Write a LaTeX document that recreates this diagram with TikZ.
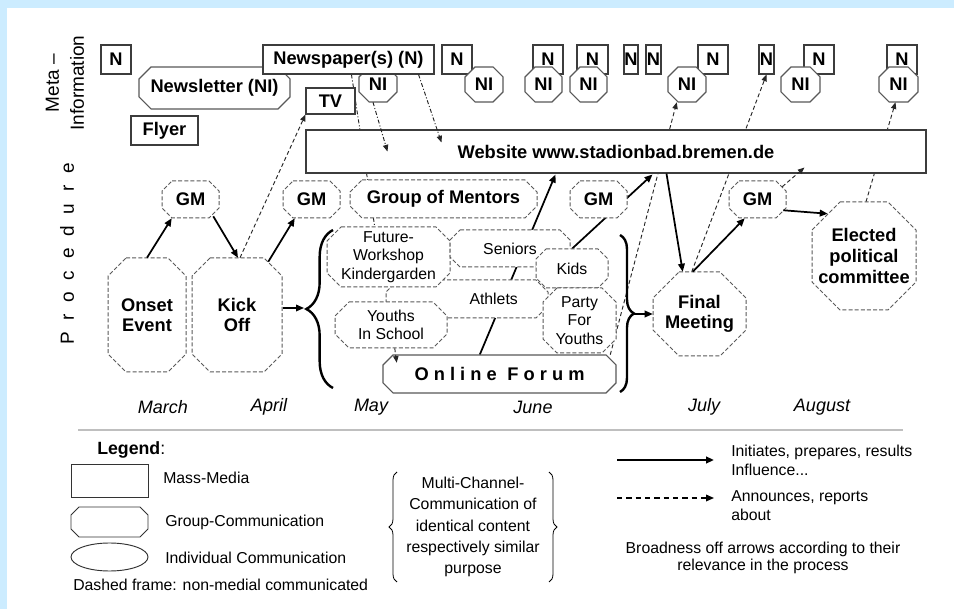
\documentclass[tikz,border=0pt]{standalone}
\usepackage{fontspec}
\setmainfont{Liberation Sans}
\usetikzlibrary{arrows.meta,calc,decorations.pathreplacing,shapes.geometric}
\pgfdeclarelayer{bglayer}
\pgfdeclarelayer{lines}
\pgfsetlayers{bglayer,lines,main}
\definecolor{bgblue}{RGB}{204,236,255}
\definecolor{edgecol}{RGB}{60,60,60}
\definecolor{dashcol}{RGB}{90,90,90}
\newcommand\bfnt{\fontsize{13.7}{15.4}\selectfont\bfseries}
\newcommand\smfnt{\fontsize{11.85}{14}\selectfont}
\newcommand\lgfnt{\fontsize{11.85}{14.25}\selectfont}
\newcommand\mofnt{\fontsize{13.5}{16}\selectfont\itshape}
\newcommand\octnode[9][]{%
  \path[#1] (#3+#7,#4) -- (#5-#7,#4) -- (#5,#4+#7) -- (#5,#6-#7) -- (#5-#7,#6) -- (#3+#7,#6) -- (#3,#6-#7) -- (#3,#4+#7) -- cycle;
  \node[octtext,#8,minimum width={(#5-#3)*0.75pt},minimum height={(#6-#4)*0.75pt}] (#2) at ({(#3+#5)/2},{(#4+#6)/2}) {#9};}
\newcommand\boxnode[7][]{%
  \node[mmbox,#1,minimum width={(#5-#3)*0.75pt},minimum height={(#6-#4)*0.75pt}] (#2) at ({(#3+#5)/2},{(#4+#6)/2}) {#7};}
\begin{document}
\begin{tikzpicture}[x=0.75pt,y=-0.75pt,
  mmbox/.style={draw=edgecol,line width=0.8pt,fill=white,inner sep=0pt,font=\bfnt},
  solo/.style={draw=edgecol!85,line width=0.8pt,fill=white},
  grp/.style={draw=dashcol,line width=0.75pt,fill=white,dash pattern=on 3pt off 1.6pt},
  octtext/.style={inner sep=0pt,align=center},
  bl/.style={font=\bfnt},
  sl/.style={font=\smfnt},
  sarrow/.style={line width=1.3pt,-{Triangle[length=6pt,width=5pt]}},
  darrow/.style={line width=0.7pt,black!85,dash pattern=on 3pt off 2pt,-{Triangle[length=5pt,width=4pt]}},
  ddline/.style={line width=0.7pt,black!85,dash pattern=on 3pt off 1.5pt on 0.8pt off 1.5pt},
  ddarrow/.style={ddline,-{Triangle[length=5pt,width=4pt]}},
  month/.style={font=\mofnt},
  lgtext/.style={font=\lgfnt,inner sep=0pt},
]
\useasboundingbox (0,0) rectangle (954,609);
\begin{pgfonlayer}{bglayer}
\fill[bgblue] (0,0) rectangle (954,609);
\fill[white] (7,8) rectangle (954,609);
\end{pgfonlayer}

% side labels
\node[rotate=90,align=center,font=\fontsize{14.25}{18.75}\selectfont] (metalbl) at (65,83) {Meta –\\Information};
\node[rotate=90,font=\fontsize{14.25}{17}\selectfont] (proclbl) at (67,254) {P\kern8.8pt r\kern8.8pt o\kern8.8pt c\kern8.8pt e\kern8.8pt d\kern8.8pt u\kern8.8pt r\kern8.8pt e};

% top row: meta information
\octnode[solo]{newsletter}{139}{67}{290}{109}{12}{bl}{Newsletter (NI)}
\octnode[solo]{ni0}{359}{67}{397}{102}{10}{bl}{NI}
\boxnode{n1}{101}{45}{131}{74}{N}
\boxnode{newspaper}{263}{45}{434}{74}{Newspaper(s) (N)}
\boxnode{n2}{442}{45}{472}{74}{N}
\boxnode{n3}{533}{45}{563}{74}{N}
\boxnode{n4}{577}{45}{608}{74}{N}
\boxnode{n5}{624}{45}{638}{74}{N}
\boxnode{n6}{646}{45}{661}{74}{N}
\boxnode{n7}{698}{45}{728}{74}{N}
\boxnode{n8}{759}{45}{774}{74}{N}
\boxnode{n9}{804}{45}{834}{74}{N}
\boxnode{n10}{887}{45}{917}{74}{N}
\octnode[solo]{ni1}{465}{67}{503}{102}{10}{bl}{NI}
\octnode[solo]{ni2}{525}{67}{562}{102}{10}{bl}{NI}
\octnode[solo]{ni3}{570}{67}{607}{102}{10}{bl}{NI}
\octnode[solo]{ni4}{668}{67}{706}{102}{10}{bl}{NI}
\octnode[solo]{ni5}{781}{67}{820}{102}{10}{bl}{NI}
\octnode[solo]{ni6}{879}{67}{918}{102}{10}{bl}{NI}
\boxnode{tv}{306}{88}{355}{114}{TV}
\boxnode{flyer}{131}{116}{198}{145}{Flyer}
\boxnode{website}{306}{130}{926}{173}{Website www.stadionbad.bremen.de}

% procedure row
\octnode[grp]{gm1}{162}{181}{219}{218}{10}{bl}{GM}
\octnode[grp]{gm2}{283}{181}{340}{218}{10}{bl}{GM}
\octnode[grp]{mentors}{350}{180}{537}{218}{12}{bl}{Group of Mentors}
\octnode[grp]{gm3}{570}{181}{627}{218}{10}{bl}{GM}
\octnode[grp]{gm4}{729}{181}{786}{218}{10}{bl}{GM}
\octnode[grp]{onset}{108}{258}{186}{372}{18}{bl}{Onset\\Event}
\octnode[grp]{kick}{192}{258}{282}{372}{18}{bl}{Kick\\Off}
\octnode[grp]{final}{653}{272}{746}{356}{26}{bl}{Final\\Meeting}
\octnode[grp]{elected}{812}{202}{916}{310}{28}{bl}{Elected\\political\\committee}

% cluster
\octnode[grp]{athlets}{386}{280}{548}{318}{12}{sl,text depth=0pt}{\hspace*{40pt}Athlets}
\octnode[grp]{future}{327}{227}{450}{287}{14}{sl}{Future-\\Workshop\\Kindergarden}
\octnode[grp]{youths}{335}{302}{447}{348}{14}{sl}{Youths\\In School}
\octnode[grp]{seniors}{450}{230}{570}{267}{10}{sl}{Seniors}
\octnode[grp]{kids}{536}{249}{608}{288}{10}{sl}{Kids}
\octnode[grp]{party}{543}{288}{616}{353}{14}{sl}{Party\\For\\Youths}
\octnode[solo]{forum}{383}{355}{616}{393}{10}{bl}{O n l i n e\hspace{8pt}F o r u m}

% braces
\coordinate (lbt) at (304,308);
\coordinate (rbt) at (634,314);
\draw[line width=1.8pt,decorate,decoration={brace,amplitude=20pt}] (333,388) -- (333,230);
\draw[line width=1.8pt,decorate,decoration={brace,amplitude=10.5pt}] (620,235) -- (620,392);

% lines passing behind shapes
\begin{pgfonlayer}{lines}
\draw[ddline] ($(newspaper.south west)+(89,0)$) -- ($(future.north west)+(48,0)$);
\draw[darrow] ($(forum.north east)+(-6,0)$) -- ($(ni4.south west)+(9,0)$);
\draw[darrow] ($(final.north west)+(39,0)$) -- (n8.south);
\draw[darrow] ($(elected.north)+(2,0)$) -- ($(ni6.south)+(-3,0)$);
\draw[sarrow] ($(forum.north west)+(97,0)$) -- ($(website.south west)+(250,1)$);
\draw[sarrow] (kids.north) -- ($(website.south west)+(347,1)$);
\end{pgfonlayer}

% arrows on top
\draw[sarrow] (onset.north) -- ($(gm1.south west)+(10,0)$);
\draw[sarrow] ($(gm1.south east)+(-6,-2)$) -- ($(kick.north)+(1,0)$);
\draw[sarrow] ($(kick.north east)+(-14,4)$) -- ($(gm2.south west)+(12,0)$);
\draw[sarrow,line width=1pt] ($(kick.east)+(1,-7)$) -- (lbt);
\draw[sarrow] ($(website.south west)+(361,0)$) -- ($(final.north west)+(30,0)$);
\draw[sarrow] ($(final.north west)+(40,0)$) -- ($(gm4.south west)+(16,0)$);
\draw[sarrow] ($(gm4.south east)+(-3,-8)$) -- ($(elected.north west)+(16,12)$);
\draw[sarrow,line width=1pt] (rbt) -- (final.west);
\draw[darrow] ($(kick.north)+(3,0)$) -- (tv.south west);
\draw[ddarrow] ($(ni0.south)+(-5,0)$) -- ($(website.south west)+(82,-22)$);
\draw[ddarrow] ($(newspaper.south east)+(-16,0)$) -- ($(website.north west)+(136,13)$);
\draw[darrow] ($(gm4.north east)+(-4,6)$) -- ($(website.south west)+(499,-6)$);
\draw[darrow] ($(youths.south west)+(60,0)$) -- ($(forum.north west)+(14,8)$);

% months
\node[month] (march) at (163,407) {March};
\node[month] (april) at (269,407) {April};
\node[month] (may) at (371,407) {May};
\node[month] (june) at (533,407) {June};
\node[month] (july) at (704,407) {July};
\node[month] (august) at (822,407) {August};

% legend
\draw[gray!50,line width=1.2pt] (78,430) -- (903,430);
\node[anchor=west,inner sep=0pt,font=\fontsize{13.3}{15}\selectfont] (legend) at (97,450) {\textbf{Legend}:};
\node[draw=black!80,line width=0.7pt,minimum width=57.75pt,minimum height=24.75pt,inner sep=0pt] (lgrect) at (109.5,480.5) {};
\octnode[draw=black!80,line width=0.7pt]{lgoct}{71}{507}{148}{537}{8}{}{}
\node[ellipse,draw=black!80,line width=0.7pt,minimum width=57.75pt,minimum height=21pt,inner sep=0pt] (lgell) at (109.5,557) {};
\node[lgtext,anchor=west] (lgmass) at (163,478) {Mass-Media};
\node[lgtext,anchor=west] (lggroup) at (165,522) {Group-Communication};
\node[lgtext,anchor=west] (lgind) at (165,558) {Individual Communication};
\node[lgtext,anchor=west] (lgdash) at (73,585) {Dashed frame: non-medial communicated};
\node[lgtext,align=center,font=\fontsize{11.85}{16}\selectfont] (lgmulti) at (473,527) {Multi-Channel-\\Communication of\\identical content\\respectively similar\\purpose};
\draw[line width=0.6pt,decorate,decoration={brace,amplitude=6pt}] (397,582) -- (397,472);
\draw[line width=0.6pt,decorate,decoration={brace,amplitude=6pt}] (549,472) -- (549,582);
\coordinate (lgsa) at (617,460);
\coordinate (lgsb) at (714,460);
\draw[line width=1.5pt,-{Triangle[length=6pt,width=5pt]}] (lgsa) -- (lgsb);
\coordinate (lgda) at (617,498);
\coordinate (lgdb) at (714,498);
\draw[line width=1pt,dash pattern=on 4pt off 3pt,-{Triangle[length=6pt,width=5pt]}] (lgda) -- (lgdb);
\node[lgtext,anchor=west,align=left] (lginit) at (731,460) {Initiates, prepares, results\\Influence...};
\node[lgtext,anchor=west,align=left] (lgann) at (731,506) {Announces, reports\\about};
\node[lgtext,align=center,font=\fontsize{11.85}{13}\selectfont] (lgbroad) at (763,558) {Broadness off arrows according to their\\relevance in the process};
\end{tikzpicture}
\end{document}
